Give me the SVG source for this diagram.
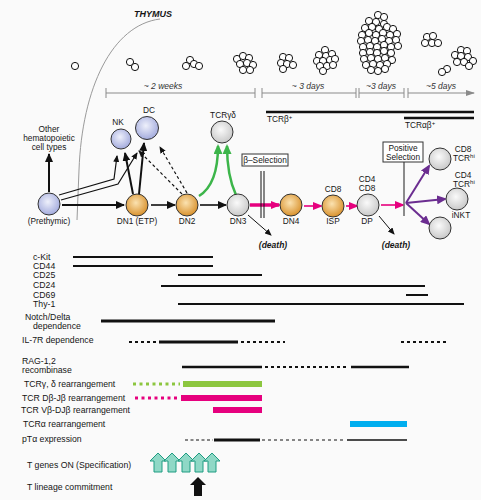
<svg xmlns="http://www.w3.org/2000/svg" width="481" height="500" viewBox="0 0 481 500">
<defs>
<style>
text{font-family:"Liberation Sans",Arial,sans-serif;fill:#151515;font-size:8.3px}
.row{font-size:8.7px}
.ital{font-style:italic;font-size:8.5px;fill:#333}
.death{font-style:italic;font-weight:bold;font-size:8.5px}
.node{stroke:#333;stroke-width:1}
.cell{fill:#fff;stroke:#111;stroke-width:1}
.bar{stroke:#111;stroke-width:2;fill:none}
.dot{stroke:#111;stroke-width:2.2;stroke-dasharray:3 3;fill:none}
.tl{stroke:#8a8a8a;stroke-width:1;fill:none}
</style>
<radialGradient id="gB" cx="45%" cy="40%" r="60%"><stop offset="0" stop-color="#eef0fb"/><stop offset="1" stop-color="#a3abdd"/></radialGradient>
<radialGradient id="gO" cx="45%" cy="40%" r="60%"><stop offset="0" stop-color="#fbe2b0"/><stop offset="1" stop-color="#d9922e"/></radialGradient>
<radialGradient id="gG" cx="45%" cy="40%" r="60%"><stop offset="0" stop-color="#fafafa"/><stop offset="1" stop-color="#c9c9c9"/></radialGradient>
<marker id="ak" markerUnits="userSpaceOnUse" markerWidth="9" markerHeight="8" refX="8" refY="4" orient="auto"><path d="M0,0 L9,4 L0,8 z" fill="#111"/></marker>
<marker id="as" markerUnits="userSpaceOnUse" markerWidth="7" markerHeight="6" refX="6" refY="3" orient="auto"><path d="M0,0 L7,3 L0,6 z" fill="#111"/></marker>
<marker id="am" markerUnits="userSpaceOnUse" markerWidth="10" markerHeight="8" refX="8" refY="4" orient="auto"><path d="M0,0 L10,4 L0,8 z" fill="#e6007e"/></marker>
<marker id="ag" markerUnits="userSpaceOnUse" markerWidth="10" markerHeight="9" refX="8" refY="4.5" orient="auto"><path d="M0,0 L10,4.5 L0,9 z" fill="#3cb54a"/></marker>
<marker id="ap" markerUnits="userSpaceOnUse" markerWidth="10" markerHeight="9" refX="8" refY="4.5" orient="auto"><path d="M0,0 L10,4.5 L0,9 z" fill="#6b2d90"/></marker>
<marker id="agr" markerUnits="userSpaceOnUse" markerWidth="9" markerHeight="6" refX="8" refY="3" orient="auto"><path d="M0,0 L9,3 L0,6 z" fill="#8a8a8a"/></marker>
<path id="bigArrow" d="M0,0 L8,8 L4,8 L4,19 L-4,19 L-4,8 L-8,8 z"/>
</defs>
<rect width="481" height="500" fill="#fafafa"/>

<g id="thymus">
<text x="153" y="17" text-anchor="middle" style="font-weight:bold;font-style:italic;font-size:9px">THYMUS</text>
<path d="M160,19 C112,25 82,88 79,170 L77,220" fill="none" stroke="#9a9a9a" stroke-width="1"/>
</g>

<g id="cells">
<circle class="cell" cx="75" cy="66" r="3.6"/>
<circle class="cell" cx="130" cy="62" r="3.6"/><circle class="cell" cx="135" cy="67" r="3.6"/>
<circle class="cell" cx="190" cy="60" r="3.6"/><circle class="cell" cx="186" cy="66" r="3.6"/><circle class="cell" cx="194" cy="64" r="3.6"/><circle class="cell" cx="199" cy="66" r="3.6"/>
<circle class="cell" cx="237" cy="59" r="3.6"/><circle class="cell" cx="243" cy="56" r="3.6"/><circle class="cell" cx="249" cy="58" r="3.6"/><circle class="cell" cx="240" cy="64" r="3.6"/><circle class="cell" cx="247" cy="63" r="3.6"/><circle class="cell" cx="253" cy="65" r="3.6"/><circle class="cell" cx="243" cy="70" r="3.6"/><circle class="cell" cx="250" cy="70" r="3.6"/>
<circle class="cell" cx="283" cy="57" r="3.6"/><circle class="cell" cx="289" cy="58" r="3.6"/><circle class="cell" cx="281" cy="63" r="3.6"/><circle class="cell" cx="287" cy="64" r="3.6"/><circle class="cell" cx="293" cy="65" r="3.6"/><circle class="cell" cx="283" cy="69" r="3.6"/>
<circle class="cell" cx="325" cy="50" r="3.6"/><circle class="cell" cx="319" cy="55" r="3.6"/><circle class="cell" cx="326" cy="56" r="3.6"/><circle class="cell" cx="332" cy="54" r="3.6"/><circle class="cell" cx="317" cy="61" r="3.6"/><circle class="cell" cx="323" cy="61" r="3.6"/><circle class="cell" cx="330" cy="60" r="3.6"/><circle class="cell" cx="335" cy="59" r="3.6"/><circle class="cell" cx="320" cy="66" r="3.6"/><circle class="cell" cx="327" cy="66" r="3.6"/><circle class="cell" cx="333" cy="65" r="3.6"/><circle class="cell" cx="323" cy="71" r="3.6"/>
<g>
<circle class="cell" cx="378" cy="15" r="3.6"/><circle class="cell" cx="384" cy="17" r="3.6"/>
<circle class="cell" cx="369" cy="21" r="3.6"/><circle class="cell" cx="376" cy="22" r="3.6"/><circle class="cell" cx="384" cy="24" r="3.6"/>
<circle class="cell" cx="365" cy="28" r="3.6"/><circle class="cell" cx="372" cy="27" r="3.6"/><circle class="cell" cx="379" cy="29" r="3.6"/><circle class="cell" cx="387" cy="27" r="3.6"/><circle class="cell" cx="393" cy="29" r="3.6"/>
<circle class="cell" cx="362" cy="35" r="3.6"/><circle class="cell" cx="369" cy="33" r="3.6"/><circle class="cell" cx="376" cy="35" r="3.6"/><circle class="cell" cx="383" cy="33" r="3.6"/><circle class="cell" cx="390" cy="35" r="3.6"/><circle class="cell" cx="397" cy="34" r="3.6"/>
<circle class="cell" cx="361" cy="41" r="3.6"/><circle class="cell" cx="368" cy="40" r="3.6"/><circle class="cell" cx="375" cy="41" r="3.6"/><circle class="cell" cx="382" cy="39" r="3.6"/><circle class="cell" cx="389" cy="41" r="3.6"/><circle class="cell" cx="396" cy="40" r="3.6"/>
<circle class="cell" cx="363" cy="47" r="3.6"/><circle class="cell" cx="370" cy="46" r="3.6"/><circle class="cell" cx="377" cy="47" r="3.6"/><circle class="cell" cx="384" cy="45" r="3.6"/><circle class="cell" cx="391" cy="47" r="3.6"/><circle class="cell" cx="398" cy="46" r="3.6"/>
<circle class="cell" cx="363" cy="53" r="3.6"/><circle class="cell" cx="370" cy="52" r="3.6"/><circle class="cell" cx="377" cy="53" r="3.6"/><circle class="cell" cx="384" cy="51" r="3.6"/><circle class="cell" cx="391" cy="53" r="3.6"/>
<circle class="cell" cx="364" cy="59" r="3.6"/><circle class="cell" cx="371" cy="58" r="3.6"/><circle class="cell" cx="378" cy="59" r="3.6"/><circle class="cell" cx="385" cy="58" r="3.6"/><circle class="cell" cx="392" cy="60" r="3.6"/>
<circle class="cell" cx="366" cy="65" r="3.6"/><circle class="cell" cx="373" cy="64" r="3.6"/><circle class="cell" cx="380" cy="65" r="3.6"/><circle class="cell" cx="387" cy="64" r="3.6"/>
<circle class="cell" cx="371" cy="70" r="3.6"/><circle class="cell" cx="378" cy="71" r="3.6"/><circle class="cell" cx="385" cy="69" r="3.6"/>
</g>
<circle class="cell" cx="427" cy="37" r="3.6"/><circle class="cell" cx="433" cy="36" r="3.6"/><circle class="cell" cx="425" cy="43" r="3.6"/><circle class="cell" cx="432" cy="43" r="3.6"/><circle class="cell" cx="438" cy="43" r="3.6"/>
<circle class="cell" cx="461" cy="50" r="3.6"/><circle class="cell" cx="467" cy="51" r="3.6"/><circle class="cell" cx="455" cy="55" r="3.6"/><circle class="cell" cx="461" cy="56" r="3.6"/><circle class="cell" cx="468" cy="57" r="3.6"/><circle class="cell" cx="473" cy="61" r="3.6"/><circle class="cell" cx="457" cy="62" r="3.6"/><circle class="cell" cx="464" cy="62" r="3.6"/><circle class="cell" cx="469" cy="66" r="3.6"/>
<circle class="cell" cx="447" cy="69" r="3.6"/><circle class="cell" cx="442" cy="72" r="3.6"/>
</g>

<g id="timeline">
<path class="tl" d="M106,93 H255 M262,93 H356 M359,93 H404 M408,93 H474" marker-end="url(#agr)"/>
<path class="tl" d="M106,88 V98 M255,88 V98 M262,88 V98 M356,88 V98 M359,88 V98 M404,88 V98 M408,88 V98"/>
<text class="ital" x="163" y="89" text-anchor="middle">~ 2 weeks</text>
<text class="ital" x="308" y="89" text-anchor="middle">~ 3 days</text>
<text class="ital" x="381" y="89" text-anchor="middle">~3 days</text>
<text class="ital" x="441" y="89" text-anchor="middle">~5 days</text>
</g>

<g id="tcr-bars">
<line x1="266" y1="112" x2="474" y2="112" stroke="#111" stroke-width="2.5"/>
<text x="267" y="122">TCRβ<tspan dy="-3" font-size="6">+</tspan></text>
<line x1="404" y1="118" x2="474" y2="118" stroke="#111" stroke-width="2.5"/>
<text x="405" y="128">TCRαβ<tspan dy="-3" font-size="6">+</tspan></text>
</g>

<g id="connectors">
<line x1="49" y1="192" x2="49" y2="154" stroke="#111" stroke-width="2" marker-end="url(#ak)"/>
<polyline points="59,195 114,179 117,156" fill="none" stroke="#111" stroke-width="1.2" marker-end="url(#as)"/>
<polyline points="61,200 118,184 137,153" fill="none" stroke="#111" stroke-width="1.2" marker-end="url(#as)"/>
<line x1="133" y1="194" x2="125" y2="153" stroke="#111" stroke-width="2" marker-end="url(#ak)"/>
<line x1="139" y1="194" x2="144" y2="143" stroke="#111" stroke-width="2" marker-end="url(#ak)"/>
<line x1="182" y1="194" x2="139" y2="151" stroke="#111" stroke-width="1.2" stroke-dasharray="3 2.5" marker-end="url(#as)"/>
<line x1="187" y1="193" x2="160" y2="147" stroke="#111" stroke-width="1.2" stroke-dasharray="3 2.5" marker-end="url(#as)"/>
<path d="M199,196 C212,188 218,170 218,146" fill="none" stroke="#3cb54a" stroke-width="2.5" marker-end="url(#ag)"/>
<path d="M236,195 C229,180 227,165 227,146" fill="none" stroke="#3cb54a" stroke-width="2.5" marker-end="url(#ag)"/>
<line x1="62" y1="205" x2="124" y2="205" stroke="#111" stroke-width="2" marker-end="url(#ak)"/>
<line x1="151" y1="205" x2="175" y2="205" stroke="#111" stroke-width="1.6" marker-end="url(#ak)"/>
<line x1="200" y1="205" x2="226" y2="205" stroke="#111" stroke-width="1.6" marker-end="url(#ak)"/>
<line x1="250" y1="205" x2="279" y2="205" stroke="#e6007e" stroke-width="3.5" marker-end="url(#am)"/>
<line x1="304" y1="206" x2="321" y2="206" stroke="#e6007e" stroke-width="1.6" marker-end="url(#am)"/>
<line x1="346" y1="206" x2="357" y2="206" stroke="#e6007e" stroke-width="1.6" marker-end="url(#am)"/>
<line x1="381" y1="205" x2="403" y2="205" stroke="#e6007e" stroke-width="1.6" marker-end="url(#am)"/>
<line x1="406" y1="203" x2="429" y2="166" stroke="#6b2d90" stroke-width="2" marker-end="url(#ap)"/>
<line x1="406" y1="203" x2="445" y2="199" stroke="#6b2d90" stroke-width="2" marker-end="url(#ap)"/>
<line x1="406" y1="203" x2="429" y2="224" stroke="#6b2d90" stroke-width="2" marker-end="url(#ap)"/>
<line x1="248" y1="215" x2="271" y2="235" stroke="#111" stroke-width="1" marker-end="url(#as)"/>
<line x1="379" y1="216" x2="394" y2="234" stroke="#111" stroke-width="1" marker-end="url(#as)"/>
<line x1="261" y1="171" x2="261" y2="218" stroke="#111" stroke-width="1"/>
<line x1="264" y1="171" x2="264" y2="218" stroke="#111" stroke-width="1"/>
<line x1="404" y1="162" x2="404" y2="216" stroke="#666" stroke-width="1.5"/>
</g>

<g id="other-types">
<text x="49" y="132" text-anchor="middle">Other</text>
<text x="49" y="141" text-anchor="middle">hematopoietic</text>
<text x="49" y="150" text-anchor="middle">cell types</text>
</g>
<g id="prethymic"><circle class="node" cx="49" cy="204" r="11" fill="url(#gB)"/><text x="49" y="224" text-anchor="middle">(Prethymic)</text></g>
<g id="nk"><circle class="node" cx="121" cy="139" r="10" fill="url(#gB)"/><text x="118" y="125" text-anchor="middle">NK</text></g>
<g id="dc"><circle class="node" cx="147" cy="128" r="11.5" fill="url(#gB)"/><text x="149" y="113" text-anchor="middle">DC</text></g>
<g id="dn1"><circle class="node" cx="137" cy="205" r="11" fill="url(#gO)"/><text x="137" y="224" text-anchor="middle">DN1 (ETP)</text></g>
<g id="dn2"><circle class="node" cx="187" cy="205" r="11" fill="url(#gO)"/><text x="187" y="224" text-anchor="middle">DN2</text></g>
<g id="tcrgd"><circle class="node" cx="222" cy="132" r="11" fill="url(#gG)"/><text x="223" y="118" text-anchor="middle">TCRγδ</text></g>
<g id="dn3"><circle class="node" cx="238" cy="205" r="11" fill="url(#gG)"/><text x="238" y="224" text-anchor="middle">DN3</text><text class="death" x="273" y="248" text-anchor="middle">(death)</text></g>
<g id="beta-selection"><rect x="242" y="154" width="46" height="12" fill="#fff" stroke="#333" stroke-width="1"/><text x="265" y="163" text-anchor="middle">β–Selection</text></g>
<g id="dn4"><circle class="node" cx="291" cy="205" r="11" fill="url(#gO)"/><text x="291" y="224" text-anchor="middle">DN4</text></g>
<g id="isp"><circle class="node" cx="333" cy="206" r="11" fill="url(#gO)"/><text x="333" y="192" text-anchor="middle">CD8</text><text x="333" y="224" text-anchor="middle">ISP</text></g>
<g id="dp"><circle class="node" cx="368" cy="205" r="11" fill="url(#gG)"/><text x="367" y="182" text-anchor="middle">CD4</text><text x="367" y="191" text-anchor="middle">CD8</text><text x="367" y="224" text-anchor="middle">DP</text><text class="death" x="396" y="248" text-anchor="middle">(death)</text></g>
<g id="positive-selection"><rect x="383" y="142" width="40" height="20" fill="#fff" stroke="#333" stroke-width="1"/><text x="403" y="151" text-anchor="middle" font-size="7.5">Positive</text><text x="403" y="159.5" text-anchor="middle" font-size="7.5">Selection</text></g>
<g id="cd8-tcrhi"><circle class="node" cx="440" cy="159" r="11" fill="url(#gG)"/><text x="463" y="152" text-anchor="middle">CD8</text><text x="453" y="161">TCR<tspan dy="-3" font-size="6">hi</tspan></text></g>
<g id="cd4-tcrhi"><circle class="node" cx="457" cy="199" r="11" fill="url(#gG)"/><text x="463" y="178" text-anchor="middle">CD4</text><text x="453" y="187">TCR<tspan dy="-3" font-size="6">hi</tspan></text></g>
<g id="inkt"><circle class="node" cx="440" cy="228" r="11" fill="url(#gG)"/><text x="461" y="218" text-anchor="middle">iNKT</text></g>

<g id="markers-expression">
<text class="row" x="33" y="260">c-Kit</text><line class="bar" x1="73" y1="257" x2="213" y2="257"/>
<text class="row" x="33" y="269">CD44</text><line class="bar" x1="73" y1="266" x2="213" y2="266"/>
<text class="row" x="33" y="278">CD25</text><line class="bar" x1="178" y1="275" x2="262" y2="275"/>
<text class="row" x="33" y="288">CD24</text><line class="bar" x1="161" y1="286" x2="425" y2="286"/>
<text class="row" x="33" y="298">CD69</text><line class="bar" x1="406" y1="295" x2="428" y2="295"/>
<text class="row" x="33" y="307">Thy-1</text><line class="bar" x1="178" y1="304" x2="464" y2="304"/>
</g>
<g id="notch"><text class="row" x="25" y="320">Notch/Delta</text><text class="row" x="33" y="329">dependence</text><line x1="101" y1="321" x2="275" y2="321" stroke="#111" stroke-width="3"/></g>
<g id="il7r"><text class="row" x="22" y="343">IL-7R dependence</text>
<line class="dot" x1="129" y1="342" x2="156" y2="342"/><line x1="159" y1="342" x2="238" y2="342" stroke="#111" stroke-width="3"/><line class="dot" x1="241" y1="342" x2="285" y2="342"/><line class="dot" x1="401" y1="342" x2="446" y2="342"/></g>
<g id="rag"><text class="row" x="22" y="363.5">RAG-1,2</text><text class="row" x="22" y="373">recombinase</text>
<line x1="182" y1="367" x2="262" y2="367" stroke="#111" stroke-width="2.5"/><line class="dot" x1="265" y1="367" x2="349" y2="367"/><line x1="351" y1="367" x2="409" y2="367" stroke="#111" stroke-width="2.5"/></g>
<g id="tcrgd-rearr"><text class="row" x="24" y="387">TCRγ, δ rearrangement</text>
<line x1="133" y1="384" x2="180" y2="384" stroke="#8cc63f" stroke-width="3" stroke-dasharray="3 3.5"/><rect x="183" y="381" width="79" height="6" fill="#8cc63f"/></g>
<g id="djb-rearr"><text class="row" x="22" y="401">TCR Dβ-Jβ rearrangement</text>
<line x1="135" y1="398" x2="178" y2="398" stroke="#e6007e" stroke-width="3" stroke-dasharray="3 3.5"/><rect x="181" y="395" width="81" height="6" fill="#e6007e"/></g>
<g id="vdjb-rearr"><text class="row" x="21" y="413">TCR Vβ-DJβ rearrangement</text><rect x="213" y="407" width="49" height="6" fill="#e6007e"/></g>
<g id="tcra-rearr"><text class="row" x="23" y="427">TCRα rearrangement</text><rect x="350" y="421" width="57" height="6" fill="#00aeef"/></g>
<g id="pta"><text class="row" x="22" y="442">pTα expression</text>
<line x1="185" y1="440" x2="213" y2="440" stroke="#111" stroke-width="1.2" stroke-dasharray="3 2.5"/><line x1="214" y1="440" x2="260" y2="440" stroke="#111" stroke-width="3"/><line x1="262" y1="440" x2="345" y2="440" stroke="#111" stroke-width="1.2" stroke-dasharray="3 3"/><line x1="347" y1="440" x2="407" y2="440" stroke="#111" stroke-width="1.5"/></g>
<g id="specification"><text class="row" x="27" y="468">T genes ON (Specification)</text>
<g fill="#8fd8c6" stroke="#1f9c82" stroke-width="1">
<use href="#bigArrow" x="158" y="453"/><use href="#bigArrow" x="172" y="453"/><use href="#bigArrow" x="186" y="453"/><use href="#bigArrow" x="199" y="453"/><use href="#bigArrow" x="212" y="453"/>
</g></g>
<g id="commitment"><text class="row" x="27" y="490">T lineage commitment</text><use href="#bigArrow" x="198" y="477" fill="#111"/></g>
</svg>
